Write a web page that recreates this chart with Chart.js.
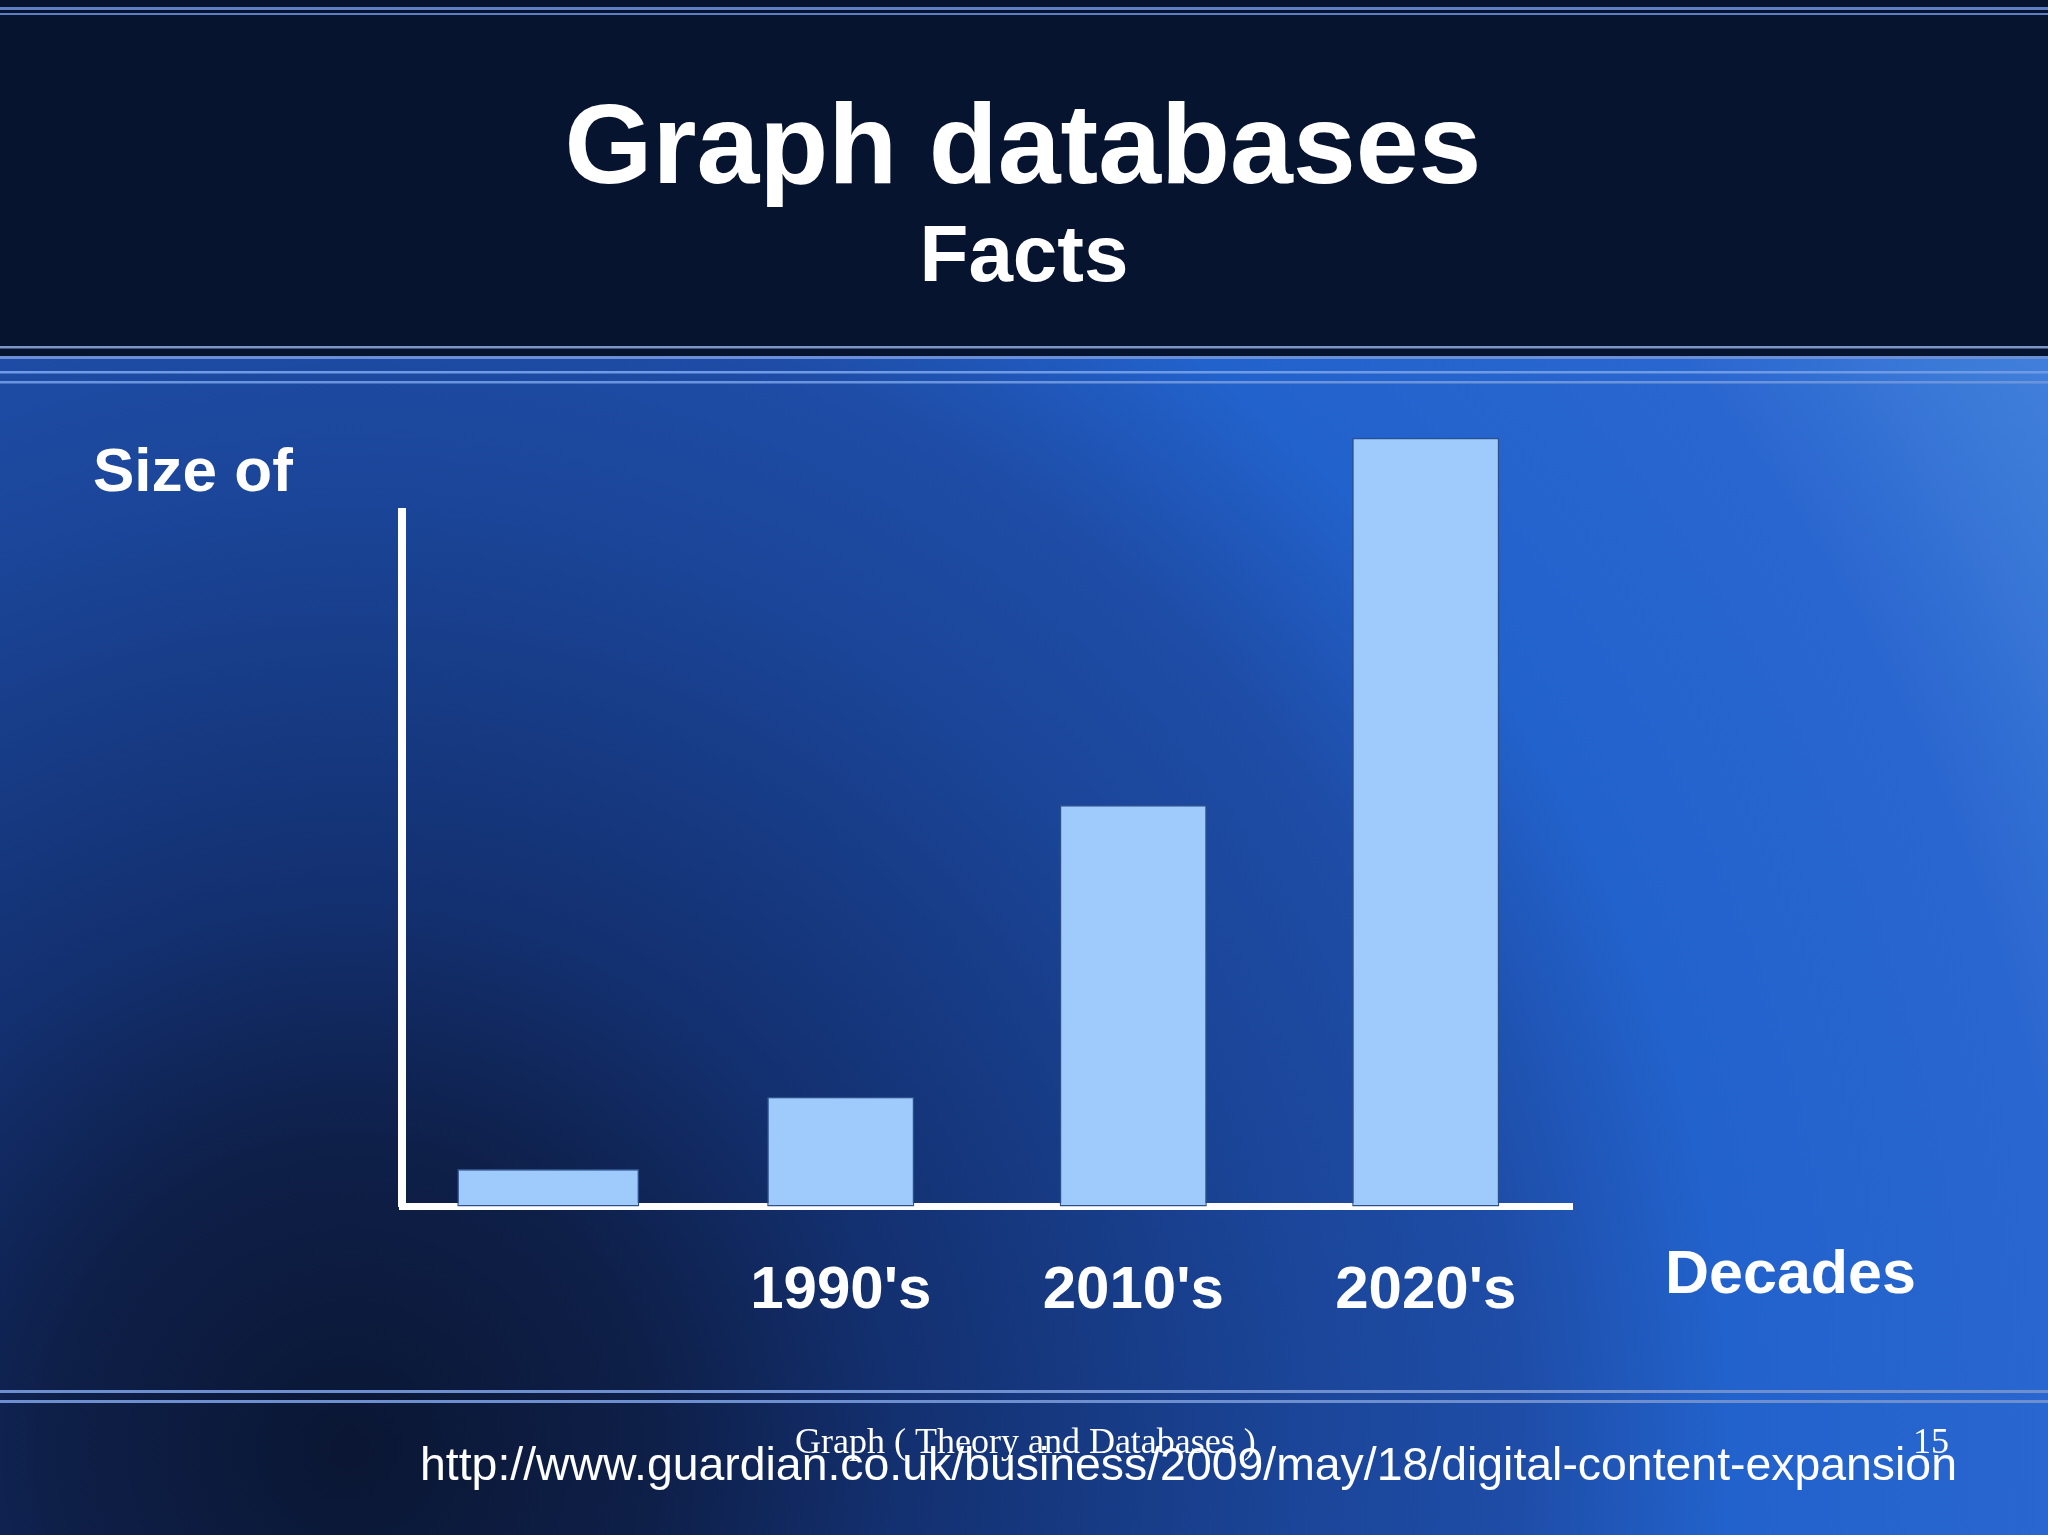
<!DOCTYPE html>
<html>
<head>
<meta charset="utf-8">
<script src="https://cdn.jsdelivr.net/npm/chart.js@4/dist/chart.umd.min.js"></script>
<style>
html,body{margin:0;padding:0;background:#0b1a3c;overflow:hidden}
canvas{display:block}
</style>
</head>
<body>
<canvas id="c" width="2048" height="1535"></canvas>
<script>
// ---- data ----
const categories = ['', "1990's", "2010's", "2020's"];
const values = [5.4, 15.8, 57.8, 110.7];
const yRange = [0, 100];
const titleText = 'Graph databases';
const subtitleText = 'Facts';
const yLabel = 'Size of';
const xLabel = 'Decades';
const footerText = 'Graph ( Theory and Databases )';
const pageNumber = '15';
const sourceUrl = 'http://www.guardian.co.uk/business/2009/may/18/digital-content-expansion';

const SANS = '"Liberation Sans", Arial, Helvetica, sans-serif';
const SERIF = '"Liberation Serif", "Times New Roman", serif';
Chart.defaults.font.family = SANS;

const bgPlugin = {
  id: 'slideBg',
  beforeDraw(chart) {
    const ctx = chart.ctx, W = chart.width, H = chart.height;
    ctx.save();
    const g = ctx.createRadialGradient(350, 1450, 0, 350, 1450, 2150);
    g.addColorStop(0, '#0a1633');
    g.addColorStop(0.14, '#0e1f48');
    g.addColorStop(0.256, '#133070');
    g.addColorStop(0.451, '#1b469a');
    g.addColorStop(0.54, '#1e4ca6');
    g.addColorStop(0.642, '#2262cc');
    g.addColorStop(0.8, '#2a66cf');
    g.addColorStop(0.898, '#3c7ad8');
    g.addColorStop(1, '#4a86e0');
    ctx.fillStyle = g;
    ctx.fillRect(0, 0, W, H);
    ctx.fillStyle = '#071430';
    ctx.fillRect(0, 0, W, 356);
    const stripes = [[7, 3, '#5f7fc2'], [13, 2, '#5f7fc2'], [346, 2.5, '#7d95c8'], [356, 3, '#6a8fd6'],
                     [371, 2.5, '#6f9be6'], [381, 2.5, '#6a95de'], [1390, 3, '#6d8fd0'], [1400, 3, '#6d8fd0']];
    for (const [y, h, c] of stripes) { ctx.fillStyle = c; ctx.fillRect(0, y, W, h); }
    ctx.restore();
  }
};

const textPlugin = {
  id: 'slideText',
  afterDraw(chart) {
    const ctx = chart.ctx;
    ctx.save();
    ctx.fillStyle = '#ffffff';
    ctx.textBaseline = 'alphabetic';
    ctx.textAlign = 'center';
    ctx.font = 'bold 113px ' + SANS;
    ctx.fillText(titleText, 1023, 183);
    ctx.font = 'bold 80px ' + SANS;
    ctx.fillText(subtitleText, 1024, 281);
    ctx.textAlign = 'left';
    ctx.font = 'bold 62px ' + SANS;
    ctx.fillText(yLabel, 93, 491);
    ctx.font = 'bold 61px ' + SANS;
    ctx.fillText(xLabel, 1665, 1293);
    ctx.font = '36px ' + SERIF;
    ctx.fillText(footerText, 795, 1453);
    ctx.fillText(pageNumber, 1913, 1453);
    ctx.font = '46.4px ' + SANS;
    ctx.fillText(sourceUrl, 420, 1480);
    ctx.restore();
  }
};

const barStyle = {
  backgroundColor: '#9ecbfb',
  borderColor: '#2d4f8a',
  borderWidth: 1.5,
  borderSkipped: false,
  categoryPercentage: 1,
  grouped: false,
  clip: false
};

new Chart(document.getElementById('c').getContext('2d'), {
  type: 'bar',
  data: {
    labels: categories,
    datasets: [
      Object.assign({ data: values.map((v, i) => i === 0 ? v : null), barPercentage: 0.622 }, barStyle),
      Object.assign({ data: values.map((v, i) => i === 0 ? null : v), barPercentage: 0.503 }, barStyle)
    ]
  },
  options: {
    responsive: false,
    animation: false,
    devicePixelRatio: 1,
    layout: { padding: { left: 402, right: 476, top: 512, bottom: 213.5 } },
    plugins: {
      legend: { display: false },
      tooltip: { enabled: false },
      title: { display: false },
      subtitle: { display: false }
    },
    scales: {
      x: {
        grid: { display: false, drawTicks: false },
        border: { display: true, color: '#ffffff', width: 7 },
        ticks: { color: '#ffffff', font: { size: 60, weight: 'bold', lineHeight: 1.2 }, padding: 49, maxRotation: 0, autoSkip: false },
        afterFit: (s) => { s.height = 115; }
      },
      y: {
        min: yRange[0], max: yRange[1],
        grid: { display: false, drawTicks: false },
        border: { display: true, color: '#ffffff', width: 8 },
        ticks: { display: false },
        afterFit: (s) => { s.width = 0; }
      }
    }
  },
  plugins: [bgPlugin, textPlugin]
});
</script>
</body>
</html>
